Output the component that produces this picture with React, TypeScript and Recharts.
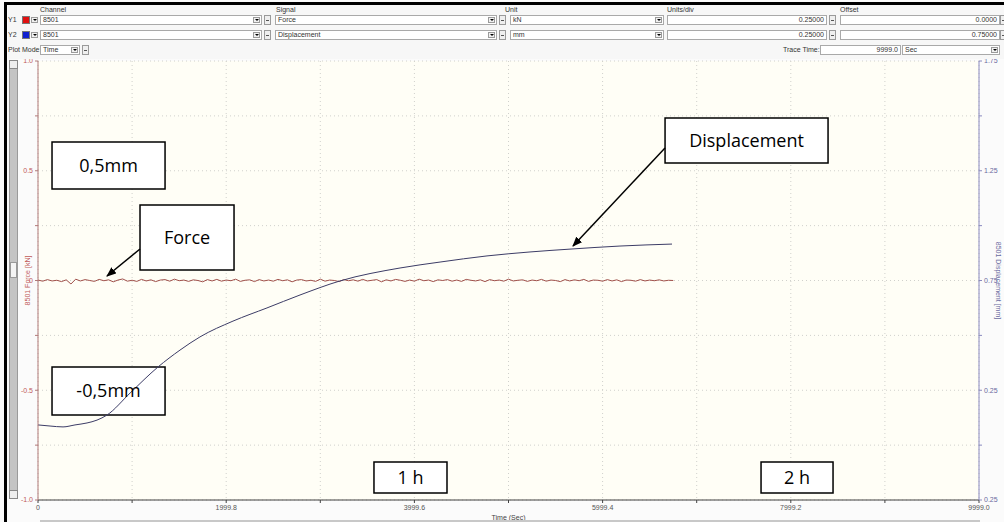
import { CartesianGrid, Line, LineChart, ReferenceArea, XAxis, YAxis } from "recharts"

// force trace, one reading every FORCE_STEP_SEC seconds (kN)
const FORCE_STEP_SEC = 50
const FORCE_KN = [
  0.002, -0.003, 0.004, -0.002, 0.001, -0.005, 0.003, -0.016, 0.006, -0.002, 0.004, 0.0, -0.004, 0.005, -0.001, 0.003, -0.006, 0.002, 0.007, -0.003,
  0.001, -0.004, 0.005, -0.002, 0.003, -0.005, 0.002, 0.004, -0.003, 0.006, -0.001, 0.002, -0.004, 0.003, 0.0, -0.006, 0.004, -0.002, 0.005, -0.003,
  0.002, -0.001, 0.006, -0.004, 0.001, 0.003, -0.005, 0.004, -0.002, 0.002, -0.003, 0.005, -0.001, 0.003, -0.006, 0.002, 0.004, -0.002, 0.001, -0.004,
  0.006, -0.003, 0.002, 0.0, -0.005, 0.004, -0.001, 0.003, -0.003, 0.005, -0.002, 0.001, 0.004, -0.006, 0.003, -0.002, 0.005, 0.001, -0.004, 0.002,
  -0.003, 0.006, -0.001, 0.002, -0.005, 0.003, 0.0, 0.004, -0.003, 0.002, -0.004, 0.005, 0.001, -0.002, 0.003, -0.005, 0.004, -0.001, 0.002, -0.003,
  0.006, -0.002, 0.001, 0.003, -0.004, 0.002, -0.001, 0.005, -0.003, 0.002, 0.0, -0.005, 0.004, -0.002, 0.003, -0.001, 0.005, -0.004, 0.002, 0.001,
  -0.003, 0.004, -0.002, 0.003, -0.005, 0.002, 0.001, -0.003, 0.004, -0.002, 0.002, -0.001, 0.003, -0.002, 0.001, 0.0,
]

// displacement trace (sec, mm)
const DISP_TIME_SEC = [
  0, 128, 266, 393, 521, 627, 733, 978, 1275, 1509, 1721, 2072, 2433, 2784, 3209, 3847, 4272, 4771, 5228, 5653, 6184, 6737,
]
const DISP_MM = [
  0.092, 0.087, 0.083, 0.092, 0.101, 0.114, 0.137, 0.237, 0.356, 0.433, 0.493, 0.565, 0.625, 0.684, 0.748, 0.807, 0.834,
  0.862, 0.88, 0.893, 0.907, 0.916,
]

const X_TICKS = [0, 999.9, 1999.8, 2999.7, 3999.6, 4999.5, 5999.4, 6999.3, 7999.2, 8999.1, 9999.0]
const X_LABELS = ["0", "", "1999.8", "", "3999.6", "", "5999.4", "", "7999.2", "", "9999.0"]
const FORCE_TICKS = [-1, -0.75, -0.5, -0.25, 0, 0.25, 0.5, 0.75, 1]
const FORCE_LABELS = ["-1.0", "", "-0.5", "", "0", "", "0.5", "", "1.0"]
const DISP_TICKS = [-0.25, 0, 0.25, 0.5, 0.75, 1, 1.25, 1.5, 1.75]
const DISP_LABELS = ["0.25", "", "0.25", "", "0.75", "", "1.25", "", "1.75"]

// text boxes pasted on the plot, in axis units (sec / kN)
const NOTES = [
  { text: "0,5mm", t1: 149, t2: 1350, f1: 0.417, f2: 0.631 },
  { text: "-0,5mm", t1: 149, t2: 1350, f1: -0.613, f2: -0.394 },
  { text: "Force", t1: 1084, t2: 2083, f1: 0.048, f2: 0.344 },
  { text: "Displacement", t1: 6663, t2: 8395, f1: 0.535, f2: 0.74 },
  { text: "1 h", t1: 3570, t2: 4346, f1: -0.968, f2: -0.827 },
  { text: "2 h", t1: 7683, t2: 8448, f1: -0.968, f2: -0.827 },
]

const forceData = FORCE_KN.map((force, i) => ({ t: i * FORCE_STEP_SEC, force }))
const dispData = DISP_TIME_SEC.map((t, i) => ({ t, disp: DISP_MM[i] }))

const labelFor = (ticks: number[], labels: string[]) => (v: number) => {
  const i = ticks.findIndex((t) => Math.abs(t - v) < 1e-6)
  return i < 0 ? "" : labels[i]
}

const W = 1004
const H = 522
const UI_FONT = "'Liberation Sans', Arial, sans-serif"
const NOTE_FONT = "'Open Sans', 'Noto Sans', sans-serif"

const tinyText = { fontFamily: UI_FONT, fontSize: 7, color: "#333" } as const

function DropArrow() {
  return (
    <div
      style={{
        position: "absolute",
        right: 1,
        top: 1,
        width: 7,
        height: 6,
        background: "#f0f0f0",
        border: "1px solid #9a9a9a",
        boxSizing: "border-box",
      }}
    >
      <div
        style={{
          position: "absolute",
          left: 1,
          top: 1,
          borderLeft: "2px solid transparent",
          borderRight: "2px solid transparent",
          borderTop: "2px solid #000",
        }}
      />
    </div>
  )
}

function Field({
  x,
  y,
  w,
  text,
  align = "left",
  arrow = false,
}: {
  x: number
  y: number
  w: number
  text: string
  align?: "left" | "right"
  arrow?: boolean
}) {
  return (
    <div
      style={{
        ...tinyText,
        position: "absolute",
        left: x,
        top: y,
        width: w,
        height: 10,
        boxSizing: "border-box",
        border: "1px solid #a9a9a9",
        background: "#fff",
        lineHeight: "8px",
        textAlign: align,
        paddingLeft: 2,
        paddingRight: arrow ? 11 : 2,
        whiteSpace: "nowrap",
        overflow: "hidden",
      }}
    >
      {text}
      {arrow && <DropArrow />}
    </div>
  )
}

function Spin({ x, y }: { x: number; y: number }) {
  return (
    <div
      style={{
        position: "absolute",
        left: x,
        top: y,
        width: 7,
        height: 10,
        boxSizing: "border-box",
        border: "1px solid #9a9a9a",
        background: "#efefef",
      }}
    >
      <div style={{ position: "absolute", left: 1, top: 4, width: 3, height: 1, background: "#555" }} />
    </div>
  )
}

function Label({ x, y, text }: { x: number; y: number; text: string }) {
  return (
    <div style={{ ...tinyText, position: "absolute", left: x, top: y, lineHeight: "8px", whiteSpace: "nowrap" }}>
      {text}
    </div>
  )
}

function ChannelRow({
  y,
  name,
  color,
  signal,
  unit,
  perDiv,
  offset,
}: {
  y: number
  name: string
  color: string
  signal: string
  unit: string
  perDiv: string
  offset: string
}) {
  return (
    <>
      <Label x={8} y={y + 1} text={name} />
      <div style={{ position: "absolute", left: 22, top: y + 1, width: 8, height: 8, background: color, border: "1px solid #777", boxSizing: "border-box" }} />
      <div style={{ position: "absolute", left: 31, top: y + 1, width: 8, height: 9 }}>
        <DropArrow />
      </div>
      <Field x={40} y={y} w={222} text="8501" arrow />
      <Spin x={264} y={y} />
      <Field x={275} y={y} w={222} text={signal} arrow />
      <Spin x={499} y={y} />
      <Field x={510} y={y} w={154} text={unit} arrow />
      <Field x={667} y={y} w={160} text={perDiv} align="right" />
      <Spin x={829} y={y} />
      <Field x={840} y={y} w={160} text={offset} align="right" />
      <Spin x={1000} y={y} />
    </>
  )
}

function Header() {
  return (
    <div style={{ position: "absolute", left: 0, top: 0, width: W, height: 59 }}>
      <div style={{ position: "absolute", left: 8, top: 5, width: W - 8, height: 54, background: "#f7f7f7" }} />
      <div style={{ position: "absolute", left: 4, top: 2, width: W - 4, height: 3, background: "#000" }} />
      <Label x={40} y={6} text="Channel" />
      <Label x={276} y={6} text="Signal" />
      <Label x={505} y={6} text="Unit" />
      <Label x={667} y={6} text="Units/div" />
      <Label x={840} y={6} text="Offset" />
      <ChannelRow y={15} name="Y1" color="#e01010" signal="Force" unit="kN" perDiv="0.25000" offset="0.0000" />
      <ChannelRow y={30} name="Y2" color="#1020d0" signal="Displacement" unit="mm" perDiv="0.25000" offset="0.75000" />
      <Label x={8} y={46} text="Plot Mode:" />
      <Field x={40} y={45} w={40} text="Time" arrow />
      <Spin x={82} y={45} />
      <Label x={783} y={46} text="Trace Time:" />
      <Field x={820} y={45} w={81} text="9999.0" align="right" />
      <Field x={902} y={45} w={98} text="Sec" arrow />
    </div>
  )
}

function Arrows() {
  return (
    <svg width={W} height={H} style={{ position: "absolute", left: 0, top: 0, pointerEvents: "none" }}>
      <defs>
        <marker id="head" markerWidth="10" markerHeight="8" refX="9" refY="4" orient="auto" markerUnits="userSpaceOnUse">
          <path d="M0,0 L10,4 L0,8 z" fill="#000" />
        </marker>
      </defs>
      <line x1={140} y1={249} x2={107} y2={276} stroke="#000" strokeWidth={1.5} markerEnd="url(#head)" />
      <line x1={665} y1={148} x2={573} y2={246} stroke="#000" strokeWidth={1.5} markerEnd="url(#head)" />
    </svg>
  )
}

function sideTitle(text: string, color: string, dxFromLeft: number, angle: number) {
  return (props: any) => {
    const vb = props.viewBox ?? {}
    const cx = (vb.x ?? 0) + dxFromLeft
    const cy = (vb.y ?? 0) + (vb.height ?? 0) / 2
    return (
      <text
        x={cx}
        y={cy}
        transform={`rotate(${angle} ${cx} ${cy})`}
        textAnchor="middle"
        dominantBaseline="middle"
        fontSize={7}
        fontFamily={UI_FONT}
        fill={color}
      >
        {text}
      </text>
    )
  }
}

export default function App() {
  return (
    <div style={{ position: "absolute", left: 0, top: 0, width: W, height: H, background: "#fbfbfb", overflow: "hidden" }}>
      <LineChart width={W} height={H} margin={{ top: 61, right: 0, bottom: 2, left: 0 }}>
        <CartesianGrid xAxisId="time" yAxisId="force" fill="#fffef6" stroke="#d0d0cc" strokeDasharray="1 3" />
        <XAxis
          xAxisId="time"
          dataKey="t"
          type="number"
          domain={[0, 9999]}
          ticks={X_TICKS}
          allowDataOverflow
          height={20}
          tickSize={3}
          tickFormatter={labelFor(X_TICKS, X_LABELS)}
          tick={{ fontSize: 7, fill: "#555", fontFamily: UI_FONT }}
          stroke="#404040"
          label={{ value: "Time (Sec)", position: "insideBottom", offset: 0, fontSize: 7, fill: "#444", fontFamily: UI_FONT }}
        />
        <YAxis
          yAxisId="force"
          type="number"
          domain={[-1, 1]}
          ticks={FORCE_TICKS}
          width={38}
          tickSize={3}
          tickFormatter={labelFor(FORCE_TICKS, FORCE_LABELS)}
          tick={{ fontSize: 7, fill: "#c05a5a", fontFamily: UI_FONT }}
          stroke="#b07878"
          label={{ content: sideTitle("8501 Force [kN]", "#c05a5a", 28, -90) }}
        />
        <YAxis
          yAxisId="disp"
          orientation="right"
          type="number"
          domain={[-0.25, 1.75]}
          ticks={DISP_TICKS}
          width={25}
          tickSize={3}
          tickFormatter={labelFor(DISP_TICKS, DISP_LABELS)}
          tick={{ fontSize: 7, fill: "#6a6aa0", fontFamily: UI_FONT }}
          stroke="#8a8ac0"
          label={{ content: sideTitle("8501 Displacement [mm]", "#6a6aa0", 19, 90) }}
        />
        {NOTES.map((n) => (
          <ReferenceArea
            key={n.text}
            xAxisId="time"
            yAxisId="force"
            x1={n.t1}
            x2={n.t2}
            y1={n.f1}
            y2={n.f2}
            fill="#ffffff"
            fillOpacity={1}
            stroke="#000"
            strokeWidth={1.5}
            label={{ value: n.text, position: "center", fontSize: 18, fill: "#000", fontFamily: NOTE_FONT }}
          />
        ))}
        <Line
          xAxisId="time"
          yAxisId="force"
          data={forceData}
          dataKey="force"
          type="linear"
          stroke="#a0504a"
          strokeWidth={1}
          dot={false}
          isAnimationActive={false}
        />
        <Line
          xAxisId="time"
          yAxisId="disp"
          data={dispData}
          dataKey="disp"
          type="monotone"
          stroke="#3c3c66"
          strokeWidth={1}
          dot={false}
          isAnimationActive={false}
        />
      </LineChart>

      <Arrows />
      <Header />

      {/* window frame and scroll bars */}
      <div style={{ position: "absolute", left: 4, top: 2, width: 3, height: H - 2, background: "#000" }} />
      <div style={{ position: "absolute", left: 9, top: 60, width: 9, height: 439, background: "#c4c4c4", border: "1px solid #9a9a9a", boxSizing: "border-box" }} />
      <div style={{ position: "absolute", left: 9, top: 60, width: 9, height: 9, background: "#eee", border: "1px solid #888", boxSizing: "border-box" }} />
      <div style={{ position: "absolute", left: 9, top: 490, width: 9, height: 9, background: "#eee", border: "1px solid #888", boxSizing: "border-box" }} />
      <div style={{ position: "absolute", left: 10, top: 262, width: 7, height: 16, background: "#f4f4f4", border: "1px solid #999", boxSizing: "border-box" }} />
      <div style={{ position: "absolute", left: 40, top: 520, width: 940, height: 2, background: "#c8c8c8" }} />
    </div>
  )
}
